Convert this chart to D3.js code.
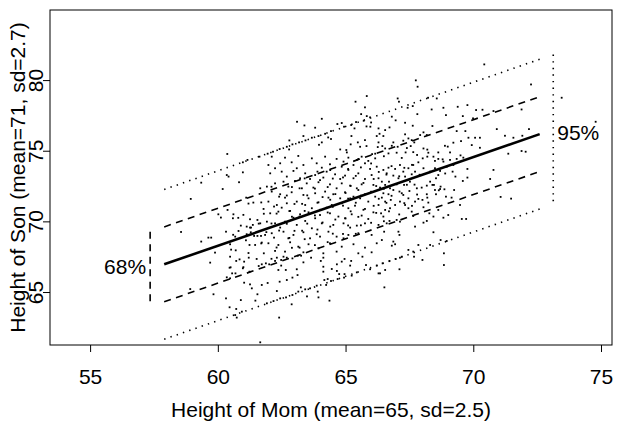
<!DOCTYPE html>
<html>
<head>
<meta charset="UTF-8">
<script src="https://cdn.jsdelivr.net/npm/d3@7"></script>
<style>
  body { margin: 0; background: #fff; }
  text { font-family: "Liberation Sans", Arial, sans-serif; fill: #000; }
</style>
</head>
<body>
<div id="chart"></div>
<script>
let width = 619, height = 423
let fontSize = 21

// axis ticks
let xTicks = [55, 60, 65, 70, 75]
let yTicks = [65, 70, 75, 80]
let xTitle = 'Height of Mom (mean=65, sd=2.5)'
let yTitle = 'Height of Son (mean=71, sd=2.7)'

// fitted line: son = fitMean + fitSlope * (mom - 65), residual sd fitSd
let fitMean = 71.41
let fitSlope = 0.627
let fitSd = 2.65
let fitRange = [57.9, 72.6]
let band68At = 57.35
let band95At = 73.13

// (mom height, son height)
let momSon = [
  [60.37,74.77],
  [65.83,78.87],[65.39,78.47],[65.76,78.07],[65.61,77.59],[65.83,77.45],[65.96,77.36],[65.71,77.12],[66.0,77.0],[65.82,76.72],[65.97,76.7],
  [66.29,76.58],[63.10,77.05],[63.39,76.79],[64.07,77.26],[63.81,76.63],[64.68,76.89],[64.85,76.96],[64.94,76.7],[65.22,76.82],[65.41,77.03],
  [65.35,76.58],[64.43,76.39],[64.2,76.2],[63.94,76.04],[63.68,75.92],[63.35,76.04],[63.43,75.73],[63.18,75.59],[62.8,75.73],[62.92,75.45],
  [62.7,75.28],[62.79,75.09],[62.42,75.12],[62.16,74.93],[61.95,74.79],[64.32,75.94],[64.43,75.83],[65.23,76.04],[66.22,76.04],[66.33,76.2],
  [64.07,75.59],[63.96,75.42],[65.2,75.45],[65.48,75.59],[65.76,75.75],[65.57,75.28],[65.82,75.33],[66.29,75.59],[66.26,75.26],[64.79,75.09],
  [65.03,75.05],[65.05,74.88],[66.04,74.76],[66.16,74.79],
  [70.43,81.11],[67.75,79.98],[67.82,79.53],[67.04,78.7],[67.09,78.47],[68.23,78.75],[68.57,78.7],[67.63,78.16],[67.43,78.04],[68.37,77.92],
  [67.81,77.59],[68.83,78.04],[69.39,78.11],[69.77,78.23],[70.11,77.88],[70.36,77.9],[70.79,77.81],[66.81,77.41],[66.96,77.15],[68.93,77.52],
  [69.59,77.45],[69.99,77.29],[67.33,76.98],[66.72,76.65],[66.55,76.46],[67.63,76.77],[68.05,76.3],[68.18,76.11],[68.4,76.75],[69.35,76.39],
  [69.69,76.39],[69.81,75.92],[70.07,75.92],[70.26,75.92],[69.52,75.68],[69.22,75.57],[68.89,75.35],[69.94,75.4],[70.26,75.21],[66.48,76.04],
  [67.33,76.16],[67.46,75.87],[67.26,75.71],[67.59,75.75],[67.69,75.59],[67.55,75.33],[66.87,75.59],[67.04,75.28],[66.81,75.35],[66.55,75.16],
  [67.65,74.9],[67.35,74.88],[67.0,74.86],[66.68,74.81],[68.05,75.16],[68.24,74.86],[68.63,74.88],[69.09,74.88],[67.92,76.11],[66.44,75.33],
  [72.26,79.69],[73.46,78.75],[71.89,77.92],[74.79,77.05],[70.92,76.53],[71.24,76.06],[71.57,75.92],[71.92,76.06],[72.18,76.53],[71.37,74.79],
  [71.89,74.98],[72.05,74.93],
  [60.98,74.18],[61.16,74.35],[61.63,74.58],[60.98,73.47],[60.35,73.28],[60.42,73.17],[59.35,72.74],[60.19,72.29],[60.83,72.77],[61.66,72.34],
  [58.94,71.59],[61.11,71.68],[61.39,71.33],[61.79,70.88],[60.38,70.81],[60.02,70.5],[60.12,70.27],[60.61,70.5],[60.59,70.22],[61.26,70.15],
  [61.55,70.1],[61.66,69.86],[61.37,69.75],[60.9,69.7],[61.13,69.63],[61.26,69.56],[60.32,69.27],[60.81,69.32],[58.56,69.25],[59.74,68.85],
  [59.63,68.85],[59.35,68.57],[60.68,68.92],[61.13,69.09],[61.29,69.23],[61.55,68.97],[61.42,68.97],[61.69,68.97],[61.85,69.04],[60.48,68.38],
  [60.52,68.0],[61.24,68.33],[61.46,68.33],[59.89,67.79],[61.72,68.5],
  [59.7,67.08],[60.48,67.5],[60.72,67.2],[60.85,67.31],[61.03,67.15],[61.21,67.43],[61.52,67.34],[61.72,66.96],[60.46,66.72],[60.56,66.32],
  [60.69,66.32],[60.98,66.68],[61.24,66.44],[60.35,66.04],[60.48,65.97],[58.92,65.21],[59.83,64.84],[61.03,65.66],[61.26,65.54],[61.33,65.26],
  [60.32,64.55],[60.9,64.43],[61.47,64.39],[61.55,64.84],[60.46,63.92],[60.72,63.8],[60.94,63.61],[60.68,63.37],[60.74,63.19],[61.66,61.44],
  [61.72,65.5],
  [61.88,67.03],[62.01,66.96],[62.24,67.2],[62.31,67.43],[62.48,67.27],[62.57,67.5],[62.48,66.87],[62.37,66.56],[62.66,66.56],[63.09,66.61],
  [62.92,67.38],[63.13,67.57],[63.26,67.57],[63.35,67.1],[63.65,67.43],[64.03,67.2],[64.13,67.43],[63.12,66.2],[62.92,66.02],[62.7,65.85],
  [62.42,65.73],[61.95,65.64],[63.25,65.33],[63.42,65.19],[63.61,65.26],[63.87,65.45],[63.91,65.03],[63.94,64.62],[63.49,64.69],[62.31,65.07],
  [62.44,64.55],[62.67,64.62],[62.92,64.79],[63.15,65.03],[62.89,64.13],[62.18,64.36],[61.92,64.2],[64.37,64.39],[62.4,63.19],[64.13,66.79],
  [64.13,66.44],[64.17,65.85],[64.3,65.92],[64.24,65.5],[64.43,65.78],[64.46,66.63],[64.66,66.96],[64.66,66.49],[64.75,66.27],[64.96,66.27],
  [64.85,67.15],[64.96,67.34],[65.22,67.2],[65.18,66.87],[65.24,66.16],[64.94,66.02],[64.69,65.92],[65.44,66.39],[65.66,67.5],[65.8,66.91],
  [65.96,66.61],[66.22,66.87],[66.29,66.32],
  [66.45,67.03],[66.72,67.2],[66.96,67.34],[67.13,67.43],[67.2,67.5],[67.68,67.5],[68.01,67.27],[66.55,66.56],[67.11,66.61],[68.85,66.91],
  [66.52,65.33],[66.35,66.32],
  [71.07,71.73],[71.48,71.61],
  [69.19,73.52],[69.77,73.71],[69.59,72.86],[69.77,73.1],[70.66,73.0],[70.79,73.64],[69.25,72.22],[68.72,72.46],[68.87,72.27],[68.65,72.2],
  [68.5,72.22],[68.54,71.92],[68.18,71.92],[68.01,71.52],[67.85,71.59],[68.24,71.33],[68.05,71.0],[69.15,71.68],[68.93,71.75],[69.48,71.16],
  [68.63,70.81],[68.44,70.34],[68.28,70.57],[68.83,70.26],[69.02,70.45],[69.55,70.17],[69.72,70.17],[68.05,69.91],[67.72,69.63],[68.18,70.03],
  [68.44,69.23],[68.72,68.68],[68.96,68.61],[68.31,68.33],[67.85,68.33],[67.65,67.86],[67.46,67.98],[68.85,67.74],[66.87,68.57],[66.81,68.28],
  [66.94,68.38],[66.42,68.68],[66.51,69.27],[66.61,69.86],[67.07,69.27],[67.11,69.04],[67.13,69.98],[67.0,70.1],[66.72,70.03],[66.48,70.34],
  [66.39,70.57],[66.55,70.81],[66.74,70.93],[66.94,71.16],[67.13,71.4],[67.33,71.16],[67.46,70.93],[67.59,70.69],[67.65,70.38],[67.46,71.63],
  [67.26,71.87],[67.11,72.11],[66.87,72.22],[66.68,71.92],[66.48,71.99],[66.42,71.68],[66.55,71.4],[66.77,71.52],[67.72,71.4],[67.5,72.15],
  [67.79,72.34],[67.98,72.39],[68.18,72.53],[68.31,72.81],[68.46,72.58],[68.54,73.05],[68.63,73.28],[68.7,73.57],[68.5,73.76],[68.31,73.52],
  [68.05,73.76],[67.72,73.52],[67.59,73.33],[67.33,73.17],[67.07,73.05],[66.87,73.24],[66.61,73.4],[66.48,73.64],[66.68,73.8],[66.94,73.71],
  [67.13,73.99],[67.26,73.52],[67.46,73.76],[67.65,73.99],[67.85,74.18],[68.02,74.46],[68.2,74.58],[68.44,74.58],[68.63,74.42],[68.83,74.23],
  [69.09,74.35],[69.35,74.42],[69.61,74.51],[69.22,73.99],[68.96,73.87],[66.42,72.81],[66.55,72.58],[66.74,72.34],[67.0,72.62],[67.29,72.58],
  [67.52,72.81],
  [62.11,74.58],[62.63,74.51],[63.15,74.63],[63.68,74.46],[64.2,74.58],[64.65,74.42],[65.11,74.51],[65.63,74.58],[66.16,74.46],[65.89,74.28],
  [65.44,74.35],[64.92,74.23],[61.98,73.99],[62.44,74.11],[62.89,74.18],[63.35,73.99],[63.87,74.11],[64.39,74.04],[64.85,73.87],[65.31,73.99],
  [65.76,74.11],[66.22,73.87],[62.24,73.76],[63.09,73.76],[64.07,73.8],[65.11,73.64],[65.96,73.71],[62.05,73.4],[62.5,73.52],[62.96,73.57],
  [63.42,73.4],[63.81,73.28],[64.26,73.52],[64.59,73.33],[64.98,73.24],[65.5,73.4],[66.02,73.28],[66.29,73.05],[62.7,73.17],[63.22,73.05],
  [63.61,73.0],[64.13,73.1],[64.79,73.0],[65.31,73.05],[65.76,73.0],[61.92,72.46],[62.24,72.69],[62.57,72.81],[63.02,72.86],[63.48,72.69],
  [63.94,72.77],[64.39,72.62],[64.85,72.69],[65.18,72.53],[65.63,72.62],[66.09,72.58],[62.76,72.46],[63.29,72.34],[63.74,72.39],[64.65,72.34],
  [65.44,72.34],[66.35,72.39],[62.11,72.11],[62.44,71.92],[62.89,72.06],[63.35,71.87],[63.81,71.99],[64.2,72.11],[64.52,71.92],[64.98,72.06],
  [65.31,71.75],[65.76,71.92],[66.16,71.75],[62.63,71.68],[63.55,71.63],[64.33,71.68],[64.79,71.63],[65.57,71.63],[65.18,71.63],[61.98,71.4],
  [62.31,71.16],[62.7,71.28],[63.09,71.4],[63.42,71.16],[63.94,71.35],[64.46,71.16],[64.85,71.28],[65.37,71.11],[65.89,71.4],[66.29,71.16],
  [62.5,70.97],[63.68,70.93],[64.26,70.97],[65.11,70.93],[65.76,70.88],[62.05,70.57],[62.37,70.69],[62.83,70.74],[63.22,70.5],[63.55,70.64],
  [64.0,70.45],[64.39,70.57],[64.72,70.34],[65.24,70.5],[65.63,70.41],[66.09,70.64],[62.96,70.26],[63.81,70.22],[64.98,70.22],[65.89,70.17],
  [61.92,69.98],[62.24,69.86],[62.63,69.98],[63.09,69.75],[63.42,70.03],[64.07,69.86],[64.52,69.75],[64.92,69.86],[65.44,69.7],[65.76,69.86],
  [66.29,69.75],[62.44,69.56],[63.68,69.51],[65.18,69.56],[62.11,69.16],[62.57,69.27],[62.96,69.04],[63.35,69.23],[63.87,69.09],[64.33,69.27],
  [64.65,68.92],[65.11,69.04],[65.5,69.16],[66.02,69.04],[62.76,68.8],[63.61,68.8],[64.92,68.8],[61.98,68.45],[62.37,68.33],[62.83,68.52],
  [63.15,68.21],[63.55,68.38],[63.94,68.09],[64.39,68.45],[64.85,68.21],[65.31,68.38],[65.76,68.14],[66.22,68.45],[62.63,67.86],[63.35,67.81],
  [64.13,67.74],[64.65,67.86],[65.5,67.74],[66.02,67.81],[62.24,67.91],
  [60.5,66.75],[60.7,67.95],[60.6,69.05],[60.8,70.25],
  [61.0,66.76],[61.2,67.76],[61.1,68.66],[61.3,69.56],[61.0,70.46],[61.2,71.26],
  [61.6,66.84],[61.8,67.74],[61.7,68.44],[61.9,69.24],[61.6,69.84],[61.8,70.54],[61.7,71.34],
  [62.1,67.35],[62.3,68.15],[62.2,68.85],[62.4,69.35],[62.1,69.85],[62.3,70.55],[62.2,71.05],[62.4,71.75],[62.1,72.45],
  [62.7,67.43],[62.9,68.13],[62.8,68.83],[63.0,69.33],[62.7,69.83],[62.9,70.33],[62.8,70.73],[63.0,71.23],[62.7,71.83],[62.9,72.43],
  [63.2,68.14],[63.4,68.74],[63.3,69.34],[63.5,69.84],[63.2,70.34],[63.4,70.74],[63.3,71.24],[63.5,71.84],[63.2,72.34],[63.4,73.04],
  [63.8,68.32],[64.0,68.92],[63.9,69.42],[64.1,69.92],[63.8,70.42],[64.0,70.82],[63.9,71.32],[64.1,71.72],[63.8,72.32],[64.0,72.92],[63.9,73.52],
  [64.3,68.53],[64.5,69.13],[64.4,69.63],[64.6,70.13],[64.3,70.63],[64.5,71.03],[64.4,71.53],[64.6,71.93],[64.3,72.43],[64.5,73.03],[64.4,73.63],
  [64.9,69.11],[65.1,69.71],[65.0,70.21],[65.2,70.71],[64.9,71.11],[65.1,71.61],[65.0,72.01],[65.2,72.51],[64.9,73.11],[65.1,73.71],
  [65.4,69.12],[65.6,69.72],[65.5,70.32],[65.7,70.82],[65.4,71.32],[65.6,71.82],[65.5,72.22],[65.7,72.72],[65.4,73.22],[65.6,73.82],[65.5,74.42],
  [66.0,69.9],[66.2,70.6],[66.1,71.1],[66.3,71.6],[66.0,72.1],[66.2,72.5],[66.1,73.0],[66.3,73.5],[66.0,74.1],
  [66.5,70.01],[66.7,70.71],[66.6,71.31],[66.8,71.81],[66.5,72.31],[66.7,72.81],[66.6,73.31],[66.8,73.91],[66.5,74.61],
  [67.1,70.49],[67.3,71.29],[67.2,71.99],[67.4,72.59],[67.1,73.19],[67.3,73.79],[67.2,74.49],[67.4,75.19],
  [67.6,71.1],[67.8,71.9],[67.7,72.6],[67.9,73.3],[67.6,74.0],[67.8,74.7],
  [68.2,71.68],[68.4,72.58],[68.3,73.48],[68.5,74.28],[68.2,75.08],
  [68.7,72.29],[68.9,73.39],[68.8,74.39],[69.0,75.29],
  [69.3,73.17],[69.5,74.67]
]

let svg = d3.select('#chart').append('svg').attr('width', width).attr('height', height)

let x = d3.scaleLinear().domain([53.43, 75.43]).range([50, 612])
let y = d3.scaleLinear().domain([61.25, 84.96]).range([345, 10])
let fit = m => fitMean + fitSlope * (m - 65)

// points
svg.append('g').selectAll('rect').data(momSon).join('rect')
  .attr('x', d => x(d[0]) - 0.9).attr('y', d => y(d[1]) - 0.9)
  .attr('width', 1.8).attr('height', 1.8).attr('fill', '#000')

// fitted line and bands
let line = d3.line().x(d => x(d[0])).y(d => y(d[1]))
let bands = [
  { off: 0, dash: null, w: 2.6 },
  { off: 1, dash: '7,5.5', w: 1.6 },
  { off: -1, dash: '7,5.5', w: 1.6 },
  { off: 2, dash: '1.4,5.2', w: 1.6 },
  { off: -2, dash: '1.4,5.2', w: 1.6 }
]
bands.forEach(b => {
  svg.append('path')
    .attr('d', line(fitRange.map(m => [m, fit(m) + b.off * fitSd])))
    .attr('fill', 'none').attr('stroke', '#000').attr('stroke-width', b.w)
    .attr('stroke-dasharray', b.dash)
})
svg.append('path')
  .attr('d', line([[band68At, fit(band68At) + fitSd], [band68At, fit(band68At) - fitSd]]))
  .attr('stroke', '#000').attr('stroke-width', 1.6).attr('stroke-dasharray', '7,5.5')
svg.append('path')
  .attr('d', line([[band95At, fit(band95At) + 2 * fitSd], [band95At, fit(band95At) - 2 * fitSd]]))
  .attr('stroke', '#000').attr('stroke-width', 1.6).attr('stroke-dasharray', '1.4,5.2')

svg.append('text').text('68%').attr('x', x(band68At) - 4).attr('y', y(fit(band68At)) - 3)
  .attr('text-anchor', 'end').attr('dominant-baseline', 'central').attr('font-size', fontSize)
svg.append('text').text('95%').attr('x', x(band95At) + 4).attr('y', y(fit(band95At)) + 3)
  .attr('text-anchor', 'start').attr('dominant-baseline', 'central').attr('font-size', fontSize)

// frame and axes
svg.append('rect').attr('x', 50).attr('y', 10).attr('width', 562).attr('height', 335)
  .attr('fill', 'none').attr('stroke', '#000')

svg.append('g').attr('transform', 'translate(0,345)')
  .call(d3.axisBottom(x).tickValues(xTicks).tickSize(7).tickPadding(17))
svg.append('g').attr('class', 'yAxis').attr('transform', 'translate(50,0)')
  .call(d3.axisLeft(y).tickValues(yTicks).tickSize(7))
svg.selectAll('.domain').remove()
svg.selectAll('.tick text').attr('font-size', fontSize).attr('font-family', 'Liberation Sans, Arial')
svg.selectAll('.yAxis .tick text')
  .attr('transform', 'rotate(-90)').attr('x', 0).attr('y', -7).attr('dy', null)
  .attr('text-anchor', 'middle').attr('dominant-baseline', 'auto')

svg.append('text').text(xTitle).attr('x', 331).attr('y', 417)
  .attr('text-anchor', 'middle').attr('font-size', fontSize)
svg.append('text').text(yTitle).attr('transform', 'translate(25,177.5) rotate(-90)')
  .attr('text-anchor', 'middle').attr('font-size', fontSize)
</script>
</body>
</html>
